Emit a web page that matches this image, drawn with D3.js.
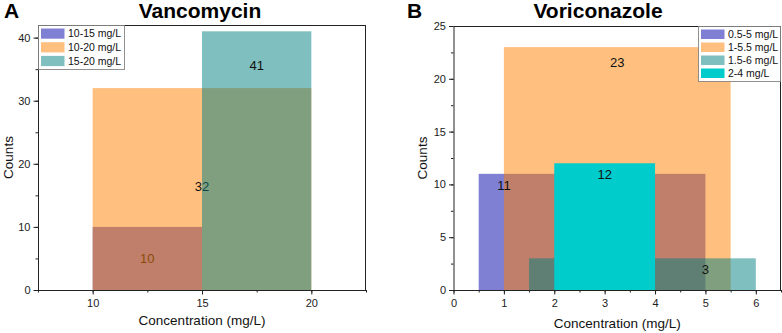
<!DOCTYPE html>
<html>
<head>
<meta charset="utf-8">
<script src="https://cdn.jsdelivr.net/npm/d3@7"></script>
<style>
  body { margin: 0; background: #fff; }
  svg { display: block; font-family: Arial, "Liberation Sans", sans-serif; }
</style>
</head>
<body>
<svg id="chart" width="782" height="333"></svg>
<script>
// panel A - vancomycin
const vancoBins = ["10-15 mg/L", "10-20 mg/L", "15-20 mg/L"]
const vancoLo = [10, 10, 15]
const vancoHi = [15, 20, 20]
const vancoCounts = [10, 32, 41]
const vancoLabelX = [12.5, 15, 17.5]
const vancoLabelY = [5, 16.4, 35.6]
const vancoXTicks = [10, 15, 20]
const vancoYTicks = [0, 10, 20, 30, 40]

// panel B - voriconazole
const voriBins = ["0.5-5 mg/L", "1-5.5 mg/L", "1.5-6 mg/L", "2-4 mg/L"]
const voriLo = [0.5, 1, 1.5, 2]
const voriHi = [5, 5.5, 6, 4]
const voriCounts = [11, 23, 3, 12]
const voriLabelX = [1, 3.25, 5, 3]
const voriLabelY = [9.9, 21.6, 2, 10.95]
const voriXTicks = [0, 1, 2, 3, 4, 5, 6]
const voriYTicks = [0, 5, 10, 15, 20, 25]

const fills = ["#0000aa", "#ff8000", "#008080", "#00cccc"]
const opac = [0.5, 0.5, 0.5, 1]

const svg = d3.select("#chart")

function panel(o) {
  const x = d3.scaleLinear().domain(o.xDomain).range([o.left, o.right])
  const y = d3.scaleLinear().domain(o.yDomain).range([o.bottom, o.top])
  const g = svg.append("g")

  // bars and labels, drawn in order so later layers tint earlier labels
  o.bins.forEach((b, i) => {
    g.append("rect")
      .attr("x", x(o.lo[i])).attr("width", x(o.hi[i]) - x(o.lo[i]))
      .attr("y", y(o.counts[i])).attr("height", y(0) - y(o.counts[i]))
      .attr("fill", fills[i]).attr("fill-opacity", opac[i])
    if (o.labelsUnder) addLabel(i)
  })
  if (!o.labelsUnder) o.bins.forEach((b, i) => addLabel(i))

  function addLabel(i) {
    g.append("text")
      .attr("x", x(o.labelX[i])).attr("y", y(o.labelY[i]))
      .attr("dy", "0.36em").attr("text-anchor", "middle")
      .style("font-size", "13px").attr("fill", "#111")
      .text(o.counts[i])
  }

  // frame
  g.append("line").attr("x1", o.left).attr("x2", o.right).attr("y1", o.top + 0.5).attr("y2", o.top + 0.5).attr("stroke", "#222")
  g.append("line").attr("x1", o.right - 0.5).attr("x2", o.right - 0.5).attr("y1", o.top).attr("y2", o.bottom).attr("stroke", "#222")

  // minor ticks
  const minorX = d3.range(o.xDomain[0], o.xDomain[1] + 1e-9, o.xMinor)
  const minorY = d3.range(o.yDomain[0], o.yDomain[1] + 1e-9, o.yMinor)
  g.append("g").attr("transform", `translate(0,${o.bottom})`)
    .call(d3.axisBottom(x).tickValues(minorX).tickSize(2.5).tickFormat(""))
    .call(a => a.select(".domain").remove())
  g.append("g").attr("transform", `translate(${o.left},0)`)
    .call(d3.axisLeft(y).tickValues(minorY).tickSize(2.5).tickFormat(""))
    .call(a => a.select(".domain").remove())

  // major axes
  const xa = g.append("g").attr("transform", `translate(0,${o.bottom})`)
    .call(d3.axisBottom(x).tickValues(o.xTicks).tickFormat(d3.format("d")).tickSize(4.5).tickPadding(5).tickSizeOuter(0))
  const ya = g.append("g").attr("transform", `translate(${o.left},0)`)
    .call(d3.axisLeft(y).tickValues(o.yTicks).tickFormat(d3.format("d")).tickSize(4.5).tickPadding(3).tickSizeOuter(0))
  ;[xa, ya].forEach(a => {
    a.selectAll("text").style("font-size", "11px").style("font-family", "Arial, 'Liberation Sans', sans-serif").attr("fill", "#222")
    a.selectAll("line, path").attr("stroke", "#222")
  })
  g.selectAll("g.tick line").attr("stroke", "#222")

  // axis titles
  g.append("text").attr("x", (o.left + o.right) / 2).attr("y", o.xTitleY)
    .attr("text-anchor", "middle").style("font-size", "13.5px").attr("fill", "#111")
    .text("Concentration (mg/L)")
  g.append("text").attr("transform", `translate(${o.yTitleX},${(o.top + o.bottom) / 2}) rotate(-90)`)
    .attr("text-anchor", "middle").attr("dy", "0.36em").style("font-size", "13.5px").attr("fill", "#111")
    .text("Counts")

  // titles
  g.append("text").attr("x", o.letterX).attr("y", 18).style("font-size", "21px").style("font-weight", "bold")
    .text(o.letter)
  g.append("text").attr("x", o.titleX).attr("y", 18).attr("text-anchor", "middle")
    .style("font-size", "21px").style("font-weight", "bold").text(o.title)

  // legend
  const rowH = o.legendRowH
  const lg = g.append("g").attr("transform", `translate(${o.legendX},${o.top})`)
  lg.append("rect").attr("x", 0.5).attr("y", 0.5)
    .attr("width", o.legendW).attr("height", o.bins.length * rowH + 3)
    .attr("fill", "#fff").attr("stroke", "#777").attr("stroke-width", 0.8)
  o.bins.forEach((b, i) => {
    lg.append("rect").attr("x", 3).attr("y", 3.5 + i * rowH).attr("width", 23.5).attr("height", rowH - 3.5)
      .attr("fill", fills[i]).attr("fill-opacity", opac[i])
    lg.append("text").attr("x", 30).attr("y", 3.5 + i * rowH + (rowH - 3.5) / 2).attr("dy", "0.36em")
      .style("font-size", "10.5px").attr("fill", "#111").text(b)
  })
}

panel({
  bins: vancoBins, lo: vancoLo, hi: vancoHi, counts: vancoCounts,
  labelX: vancoLabelX, labelY: vancoLabelY, labelsUnder: true,
  xDomain: [7.5, 22.5], yDomain: [0, 42], xTicks: vancoXTicks, yTicks: vancoYTicks,
  xMinor: 2.5, yMinor: 5,
  left: 38, right: 366, top: 25, bottom: 290,
  xTitleY: 325, yTitleX: 8,
  letter: "A", letterX: 4, title: "Vancomycin", titleX: 200,
  legendX: 38, legendW: 86, legendRowH: 13.7
})

panel({
  bins: voriBins, lo: voriLo, hi: voriHi, counts: voriCounts,
  labelX: voriLabelX, labelY: voriLabelY, labelsUnder: false,
  xDomain: [0, 6.5], yDomain: [0, 25], xTicks: voriXTicks, yTicks: voriYTicks,
  xMinor: 0.5, yMinor: 2.5,
  left: 453.5, right: 781, top: 26, bottom: 290,
  xTitleY: 328, yTitleX: 422,
  letter: "B", letterX: 407, title: "Voriconazole", titleX: 598,
  legendX: 698, legendW: 82, legendRowH: 13
})
</script>
</body>
</html>
